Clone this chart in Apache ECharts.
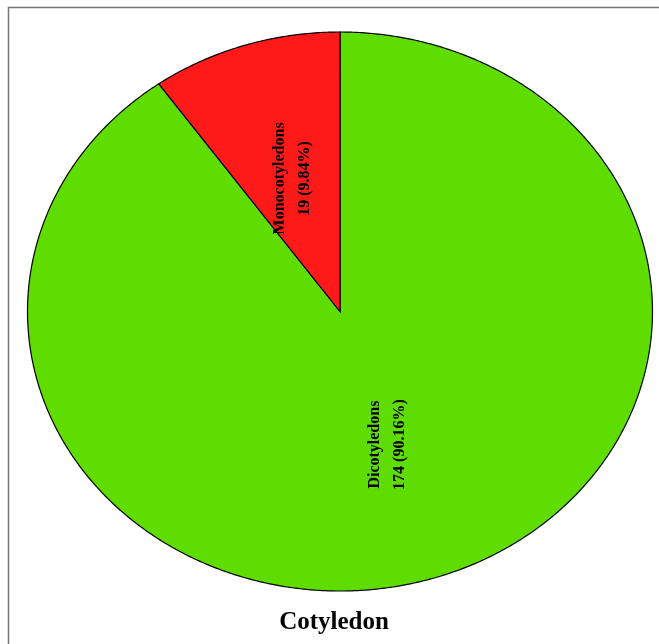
<!DOCTYPE html>
<html>
<head>
<meta charset="utf-8">
<title>Cotyledon</title>
<script src="https://cdn.jsdelivr.net/npm/echarts@6/dist/echarts.min.js"></script>
<style>
  html, body { margin: 0; padding: 0; background: #ffffff; }
  #chart { width: 659px; height: 644px; }
</style>
</head>
<body>
<div id="chart"></div>
<script>
// Cotyledon types, counts and shares (drawn clockwise from 12 o'clock)
const categories = ['Dicotyledons', 'Monocotyledons'];
const counts = [174, 19];
const percentLabels = ['90.16%', '9.84%'];
const sliceColors = ['#5fdc00', '#ff1a1a'];
const chartTitle = 'Cotyledon';

const total = counts.reduce((a, b) => a + b, 0);
const startFractions = [];
counts.reduce((acc, v) => { startFractions.push(acc / total); return acc + v; }, 0);

const chart = echarts.init(document.getElementById('chart'), null, { renderer: 'canvas' });

// Elliptical pie geometry (the plotting region is wider than tall)
const CX = 340, CY = 311.5, RX = 312.5, RY = 279.5;

function ellipsePoint(frac, scale) {
  const t = frac * 2 * Math.PI;
  return [CX + RX * scale * Math.sin(t), CY - RY * scale * Math.cos(t)];
}

function renderSlice(params, api) {
  const i = params.dataIndex;
  const value = api.value(0);
  const f0 = startFractions[i];
  const f1 = f0 + value / total;
  const pts = [[CX, CY]];
  const steps = Math.max(8, Math.ceil((f1 - f0) * 720));
  for (let k = 0; k <= steps; k++) {
    pts.push(ellipsePoint(f0 + (f1 - f0) * k / steps, 1));
  }
  const mid = ellipsePoint((f0 + f1) / 2, 0.5);
  return {
    type: 'group',
    children: [
      {
        type: 'polygon',
        shape: { points: pts },
        style: { fill: sliceColors[i], stroke: '#000000', lineWidth: 1.2 }
      },
      {
        type: 'text',
        x: mid[0],
        y: mid[1],
        rotation: Math.PI / 2,
        style: {
          text: categories[i] + '\n' + value + ' (' + percentLabels[i] + ')',
          fill: '#000000',
          font: 'bold 16px "Liberation Serif", "Times New Roman", serif',
          lineHeight: 25,
          align: 'center',
          verticalAlign: 'middle'
        },
        z2: 10
      }
    ]
  };
}

chart.setOption({
  backgroundColor: '#ffffff',
  animation: false,
  title: {
    text: chartTitle,
    left: 329,
    top: 605,
    textAlign: 'center',
    textStyle: {
      fontFamily: '"Liberation Serif", "Times New Roman", serif',
      fontWeight: 'bold',
      fontSize: 25,
      color: '#000000'
    }
  },
  graphic: [
    {
      type: 'rect',
      shape: { x: 8.5, y: 7.5, width: 700, height: 700 },
      style: { fill: 'none', stroke: '#777777', lineWidth: 1.5 },
      silent: true
    }
  ],
  series: [
    {
      type: 'custom',
      coordinateSystem: 'none',
      renderItem: renderSlice,
      data: counts.map(v => [v])
    }
  ]
});
</script>
</body>
</html>
